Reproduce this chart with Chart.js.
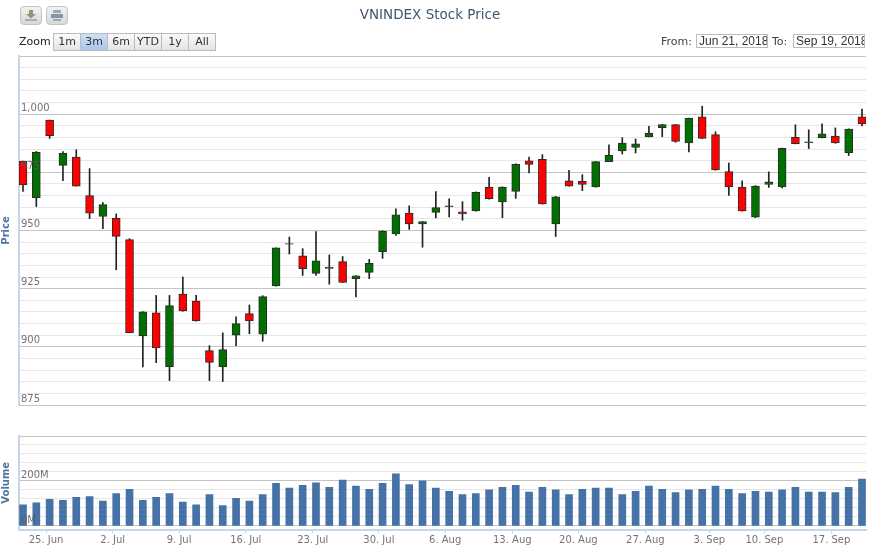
<!DOCTYPE html>
<html>
<head>
<meta charset="utf-8">
<title>VNINDEX Stock Price</title>
<script src="https://cdn.jsdelivr.net/npm/chart.js@4"></script>
<style>
    body { margin: 0; background: #fff; width: 872px; height: 547px; overflow: hidden; position: relative; font-family: "DejaVu Sans", sans-serif; }
    canvas { position: absolute; left: 0; }
    #priceChart { top: 0; left: -6px; }
    #volumeChart { top: 420px; }
    .icon { position: absolute; top: 6px; width: 20px; height: 17px; border: 1px solid #c4c4c4; border-radius: 4px; background: linear-gradient(#f2f2f2, #d8d8d8); }
    .icon svg { display: block; margin: 2px auto; }
    #zoomLabel { position: absolute; left: 19px; top: 35px; font-size: 11px; color: #222; }
    .range { position: absolute; top: 33px; height: 16px; width: 26px; border: 1px solid #bbb; background: linear-gradient(#fafafa, #e4e4e4); font-size: 11px; line-height: 16px; text-align: center; color: #333; }
    .range.on { background: linear-gradient(#cfe0f5, #a9c6ec); }
    .dateText { position: absolute; top: 35px; font: 11px "DejaVu Sans", sans-serif; color: #444; }
    .dateBox { position: absolute; top: 34px; width: 68px; height: 12px; border: 1px solid #bbb; font: 12px/12px "Liberation Sans", sans-serif; color: #333; padding-left: 2px; overflow: hidden; white-space: nowrap; box-sizing: content-box; }
</style>
</head>
<body>
<canvas id="priceChart" width="872" height="413"></canvas>
<canvas id="volumeChart" width="872" height="127"></canvas>

<div class="icon" style="left:20px"><svg width="14" height="13"><path d="M5 1h4v4h3L7 9.5 2 5h3z" fill="#8a9a78"/><rect x="1" y="10" width="12" height="2" fill="#a8b49a"/></svg></div>
<div class="icon" style="left:46px"><svg width="14" height="13"><rect x="3" y="1" width="8" height="3" fill="#9aa8b8"/><rect x="1" y="5" width="12" height="4" fill="#8294a8"/><rect x="3" y="10" width="8" height="2" fill="#9aa8b8"/></svg></div>

<div id="zoomLabel">Zoom</div>
<div class="range" style="left:53px">1m</div>
<div class="range on" style="left:80px">3m</div>
<div class="range" style="left:107px">6m</div>
<div class="range" style="left:134px">YTD</div>
<div class="range" style="left:161px">1y</div>
<div class="range" style="left:188px">All</div>

<div class="dateText" style="left:661px">From:</div>
<div class="dateBox" style="left:696px">Jun 21, 2018</div>
<div class="dateText" style="left:772px">To:</div>
<div class="dateBox" style="left:793px">Sep 19, 2018</div>

<script>
// Daily OHLC values, one entry per session
const openPrice = [979.7, 964.1, 997.5, 978, 981.6, 965, 956.1, 955.2, 946.1, 904.7, 914.6, 891.5, 922.7, 919.7, 898.4, 891.5,
    905, 914.3, 905.4, 926.2, 944.1, 939.1, 931.6, 933.7, 936.6, 929.3, 932, 940.9, 948.5, 957.5, 952.8, 957.8,
    960.2, 958, 958.4, 968.7, 962.3, 966.8, 979.9, 980.6, 952.8, 971.4, 971.1, 968.7, 979.6, 984.2, 985.7, 990.3,
    994.2, 995.5, 987.6, 998.9, 991.2, 975.3, 968.7, 955.7, 969.8, 968.7, 990, 987.7, 989.9, 990.6, 983.5, 998.9];
const closePrice = [969.6, 983.6, 990.8, 983.2, 969.1, 957.5, 961.1, 947.5, 906.1, 915, 899.5, 917.7, 915.4, 911.1, 893.3, 898.8,
    910, 911.1, 921.6, 942.5, 944.4, 933.6, 937, 934.3, 927.7, 930.5, 935.9, 949.8, 956.7, 952.8, 953.8, 959.8,
    960.6, 957.1, 966.4, 963.7, 968.7, 978.4, 978.4, 961.4, 964.5, 969.1, 969.8, 979.6, 982.3, 987.6, 987.3, 991.9,
    995.5, 988.3, 998.2, 989.6, 976, 968.7, 958.4, 969.1, 970.9, 985.3, 987.3, 988.1, 991.6, 987.6, 993.6, 995.8];
const highPrice = [979.8, 984, 997.5, 983.9, 984.7, 976.6, 962, 957.1, 946.5, 915.1, 922.1, 922.1, 930, 922.1, 900.5, 906,
    912.9, 918, 922, 942.6, 947.2, 942.2, 949.5, 939.5, 938.8, 930.6, 937.6, 949.9, 959.3, 960.6, 953.9, 966.7,
    963.6, 962.4, 966.6, 972.8, 968.8, 978.7, 981.6, 982.6, 964.7, 975.9, 974, 979.7, 986.8, 989.9, 989.3, 994.8,
    995.6, 995.6, 998.3, 1003.4, 992.4, 979, 971.3, 969.3, 975.2, 985.4, 995.4, 993.3, 995.9, 994.1, 993.7, 1002.2];
const lowPrice = [966.8, 960.3, 989.6, 971.4, 969.1, 955.1, 950.8, 933.1, 906, 891.4, 893.2, 885.5, 915.3, 911, 885.5, 885.1,
    900.5, 905.6, 902.4, 926.1, 939.9, 930.7, 930.7, 926.9, 927.6, 921.5, 929.3, 938, 947.9, 950.5, 942.8, 955.4,
    955.8, 954.4, 958.3, 963.5, 955.5, 963.8, 974.7, 961.3, 947.4, 969, 967.1, 968.6, 979.6, 982.9, 983.3, 990.2,
    990.3, 987.9, 983.8, 989.5, 975.9, 965.1, 958.3, 955.5, 968.5, 968.3, 987.2, 985.2, 989.8, 987.5, 982.2, 994.9];

// Volume in millions of shares
const volume = [94, 103, 118, 114, 127, 130, 111, 144, 163, 114, 127, 144, 106, 94, 139, 90,
    123, 111, 139, 189, 168, 180, 192, 172, 204, 177, 163, 189, 232, 184, 201, 168,
    154, 139, 144, 160, 172, 180, 151, 172, 160, 139, 163, 168, 168, 139, 154, 177,
    163, 148, 160, 163, 177, 163, 144, 154, 151, 160, 172, 151, 151, 148, 172, 208];

// Date axis
const tickLabels = ['25. Jun', '2. Jul', '9. Jul', '16. Jul', '23. Jul', '30. Jul', '6. Aug', '13. Aug', '20. Aug', '27. Aug', '3. Sep', '10. Sep', '17. Sep'];
const tickSessions = [1.73, 6.74, 11.72, 16.73, 21.76, 26.72, 31.7, 36.74, 41.7, 46.73, 51.54, 55.67, 60.7];

const upColor = '#007000';
const downColor = '#ff0000';
const labelColor = 'rgba(90,90,90,0.85)';
const axisBlue = '#c8d6e6';
const titleBlue = '#4d759e';

const wicks = lowPrice.map(function(low, i) {
    return { x: i, y: [low, highPrice[i]] };
});
const bodies = openPrice.map(function(open, i) {
    return { x: i, y: [open, closePrice[i]] };
});
const bodyColors = openPrice.map(function(open, i) {
    return closePrice[i] >= open ? upColor : downColor;
});
const volumeBars = volume.map(function(v, i) {
    return { x: i, y: v };
});

new Chart(document.getElementById('priceChart'), {
    type: 'bar',
    data: {
        datasets: [
            { data: bodies, backgroundColor: bodyColors, borderColor: '#2b2b2b', borderWidth: 1, borderSkipped: false, barThickness: 8, order: 1 },
            { data: wicks, backgroundColor: '#222', borderWidth: 0, barThickness: 1, order: 2 }
        ]
    },
    options: {
        responsive: false,
        animation: false,
        grouped: false,
        plugins: {
            legend: { display: false },
            tooltip: { enabled: false },
            title: {
                display: true,
                text: 'VNINDEX Stock Price',
                color: '#3e576f',
                font: { family: 'DejaVu Sans', size: 13.5, weight: 'normal' },
                padding: { top: 7, bottom: 32.8 }
            }
        },
        scales: {
            x: { type: 'linear', min: -0.3, max: 63.3, offset: false, display: false },
            y: {
                min: 875,
                max: 1025,
                afterFit: function(scale) {
                    scale.width = 25;
                },
                title: { display: true, text: 'Price', color: titleBlue, font: { family: 'DejaVu Sans', size: 10, weight: 'bold' }, padding: { top: 6, bottom: 0 } },
                border: { color: axisBlue, width: 2 },
                grid: {
                    drawTicks: false,
                    color: function(ctx) {
                        return ctx.tick.value % 25 === 0 ? '#c4c4c4' : '#e6e6e6';
                    }
                },
                ticks: {
                    stepSize: 5,
                    autoSkip: false,
                    mirror: true,
                    padding: 2,
                    labelOffset: -6,
                    z: 1,
                    color: labelColor,
                    font: { family: 'DejaVu Sans', size: 10 },
                    callback: function(value) {
                        if (value % 25 !== 0 || value === 1025) return '';
                        return value.toLocaleString('en-US');
                    }
                }
            }
        }
    }
});

new Chart(document.getElementById('volumeChart'), {
    type: 'bar',
    data: {
        datasets: [
            { data: volumeBars, backgroundColor: '#4572a7', barThickness: 7 }
        ]
    },
    options: {
        responsive: false,
        animation: false,
        layout: { padding: { top: 16, right: 6 } },
        plugins: {
            legend: { display: false },
            tooltip: { enabled: false }
        },
        scales: {
            x: {
                type: 'linear',
                min: -0.3,
                max: 63.3,
                offset: false,
                afterBuildTicks: function(scale) {
                    scale.ticks = tickSessions.map(function(s) { return { value: s }; });
                },
                afterFit: function(scale) {
                    scale.height = 17.5;
                },
                border: { color: axisBlue, width: 2 },
                grid: { offset: false, drawOnChartArea: false, color: axisBlue, tickLength: 4 },
                ticks: {
                    autoSkip: false,
                    maxRotation: 0,
                    padding: 1,
                    color: labelColor,
                    font: { family: 'DejaVu Sans', size: 10 },
                    callback: function(value) {
                        return tickLabels[tickSessions.indexOf(value)];
                    }
                }
            },
            y: {
                min: -16,
                max: 400,
                afterFit: function(scale) {
                    scale.width = 19;
                },
                title: { display: true, text: 'Volume', color: titleBlue, font: { family: 'DejaVu Sans', size: 10, weight: 'bold' }, padding: 0 },
                border: { color: axisBlue, width: 2 },
                grid: {
                    drawTicks: false,
                    color: function(ctx) {
                        return ctx.tick.value % 200 === 0 ? '#c4c4c4' : '#e6e6e6';
                    }
                },
                ticks: {
                    stepSize: 40,
                    includeBounds: false,
                    autoSkip: false,
                    mirror: true,
                    padding: 2,
                    labelOffset: -5.5,
                    z: 1,
                    color: labelColor,
                    font: { family: 'DejaVu Sans', size: 10 },
                    callback: function(value) {
                        return (value === 0 || value === 200) ? value + 'M' : '';
                    }
                }
            }
        }
    }
});
</script>
</body>
</html>
